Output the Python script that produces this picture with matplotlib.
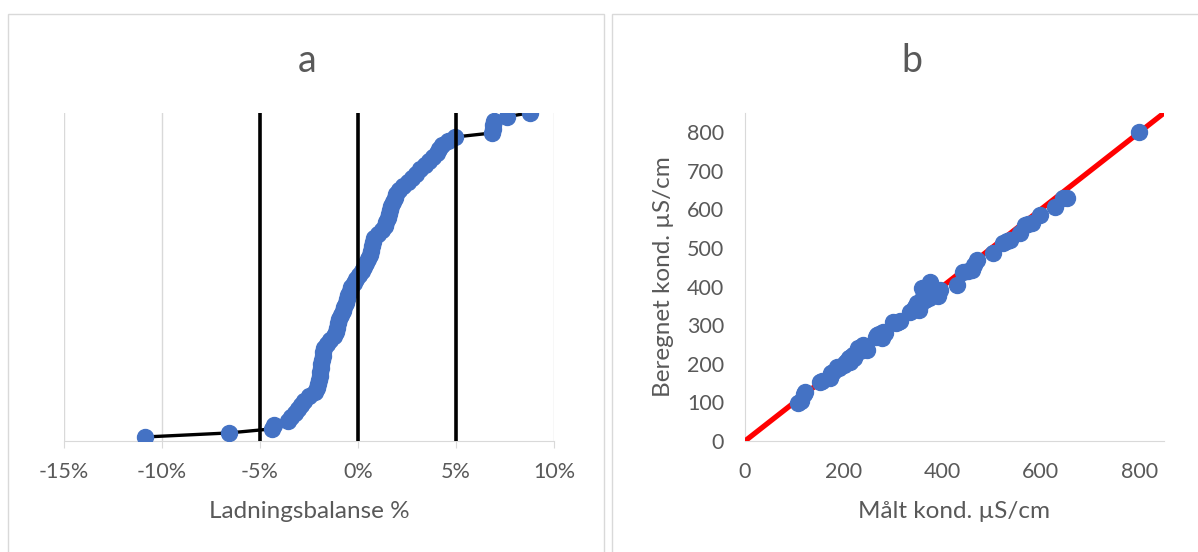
import numpy as np
import matplotlib.pyplot as plt
from matplotlib.patches import Rectangle

plt.rcParams['font.family'] = ['Lato', 'DejaVu Sans']

BLUE = '#4472C4'
TEXT = '#595959'
LIGHT = '#d9d9d9'

# panel a: charge balance, sorted (%)
balance = [
    -10.87, -6.58, -4.39, -4.29, -3.57, -3.42, -3.21, -3.06, -2.91, -2.76,
    -2.50, -2.19, -2.09, -2.04, -1.99, -1.96, -1.94, -1.91, -1.89, -1.84,
    -1.81, -1.79, -1.73, -1.58, -1.43, -1.22, -1.12, -1.07, -1.02, -0.99,
    -0.87, -0.77, -0.71, -0.61, -0.56, -0.51, -0.43, -0.36, -0.20, -0.08,
    0.05, 0.18, 0.31, 0.41, 0.51, 0.59, 0.64, 0.69, 0.74, 0.82,
    1.02, 1.22, 1.38, 1.45, 1.53, 1.58, 1.61, 1.66, 1.79, 1.89,
    1.96, 2.09, 2.30, 2.55, 2.76, 2.96, 3.16, 3.42, 3.62, 3.83,
    4.03, 4.13, 4.30, 4.60, 4.95, 6.84, 6.87, 6.90, 6.95, 7.60,
    8.78,
]
limits = [-5, 0, 5]
a_ticks = [-15, -10, -5, 0, 5, 10]

# panel b: measured vs calculated conductivity (uS/cm)
measured = [
    108, 113, 120, 122, 152, 157, 173, 175, 178, 186, 190,
    200, 203, 207, 210, 213, 216, 220, 222, 225, 230, 233, 236, 240, 243, 247,
    265, 267, 272, 278, 280, 284, 301, 306, 311, 315,
    335, 340, 345, 348, 352, 355, 358, 359, 362, 365, 368, 371, 373, 376,
    378, 381, 385, 389, 392, 396,
    430, 443, 452, 460, 465, 470,
    504, 524, 531, 538, 558, 569, 575, 582, 599, 629, 646, 653, 799,
]
calculated = [
    99, 104, 122, 126, 154, 156, 162, 175, 180, 193, 188,
    196, 201, 208, 214, 206, 218, 222, 214, 228, 240, 232, 244, 249, 238, 236,
    270, 275, 278, 266, 282, 279, 309, 307, 309, 312,
    335, 340, 348, 357, 339, 352, 360, 396, 372, 365, 380, 388, 370, 413,
    375, 384, 392, 383, 376, 391,
    404, 439, 441, 443, 455, 469,
    486, 512, 517, 521, 538, 560, 562, 564, 585, 607, 629, 629, 801,
]
b_xticks = [0, 200, 400, 600, 800]
b_yticks = [0, 100, 200, 300, 400, 500, 600, 700, 800]
one_to_one = [0, 900]

W, H = 1198, 552
fig = plt.figure(figsize=(W / 100, H / 100), dpi=100)


def px_axes(x0, y0, x1, y1):
    return fig.add_axes([x0 / W, 1 - y1 / H, (x1 - x0) / W, (y1 - y0) / H])


# chart borders
fig.add_artist(Rectangle((8 / W, -0.05), 596 / W, 1.05 - 14 / H, transform=fig.transFigure,
                         fill=False, edgecolor=LIGHT, lw=1))
fig.add_artist(Rectangle((612 / W, -0.05), 0.6, 1.05 - 14 / H, transform=fig.transFigure,
                         fill=False, edgecolor=LIGHT, lw=1))

# ---- panel a
ax = px_axes(64, 112.7, 554, 441)
rank = np.arange(len(balance))
ax.plot(balance, rank, color='black', lw=2.4, zorder=3)
ax.plot(balance, rank, 'o', color=BLUE, ms=11.5, zorder=4)
for v in limits:
    ax.axvline(v, color='black', lw=2.6, zorder=5)
ax.set_xlim(-15, 10)
ax.set_ylim(-0.99, len(balance) - 1)
ax.set_xticks(a_ticks)
ax.set_xticklabels([f'{t}%' for t in a_ticks])
ax.grid(axis='x', color=LIGHT, lw=1)
ax.set_yticks([])
for s in ['top', 'right', 'left']:
    ax.spines[s].set_visible(False)
ax.spines['bottom'].set_color(LIGHT)
ax.tick_params(axis='x', length=5, color=LIGHT, labelsize=15.5, labelcolor=TEXT, pad=10)
ax.set_xlabel('Ladningsbalanse %', fontsize=17.5, color=TEXT)
ax.xaxis.set_label_coords(0.5, (441 - 511) / 328.3)
ax.xaxis.label.set_va('center')
fig.text(307 / W, 1 - 61 / H, 'a', fontsize=27, color=TEXT, ha='center', va='center')

# ---- panel b
bx = px_axes(745, 113, 1164, 441)
bx.plot(one_to_one, one_to_one, color='red', lw=3.8, zorder=3)
bx.plot(measured, calculated, 'o', color=BLUE, ms=11.5, zorder=4)
bx.set_xlim(0, 850)
bx.set_ylim(0, 850)
bx.set_xticks(b_xticks)
bx.set_yticks(b_yticks)
for s in ['top', 'right']:
    bx.spines[s].set_visible(False)
for s in ['left', 'bottom']:
    bx.spines[s].set_color(LIGHT)
bx.tick_params(axis='x', length=0, labelsize=15.5, labelcolor=TEXT, pad=15)
bx.tick_params(axis='y', length=0, labelsize=15.5, labelcolor=TEXT, pad=15)
bx.set_xlabel('Målt kond. µS/cm', fontsize=17.5, color=TEXT)
bx.xaxis.set_label_coords(0.5, (441 - 511) / 328)
bx.xaxis.label.set_va('center')
bx.set_ylabel('Beregnet kond. µS/cm', fontsize=17.5, color=TEXT)
bx.yaxis.set_label_coords((663 - 745) / 419, (441 - 277) / 328)
bx.yaxis.label.set_va('center')
fig.text(912 / W, 1 - 61 / H, 'b', fontsize=27, color=TEXT, ha='center', va='center')

fig.savefig('out.png', dpi=100)
